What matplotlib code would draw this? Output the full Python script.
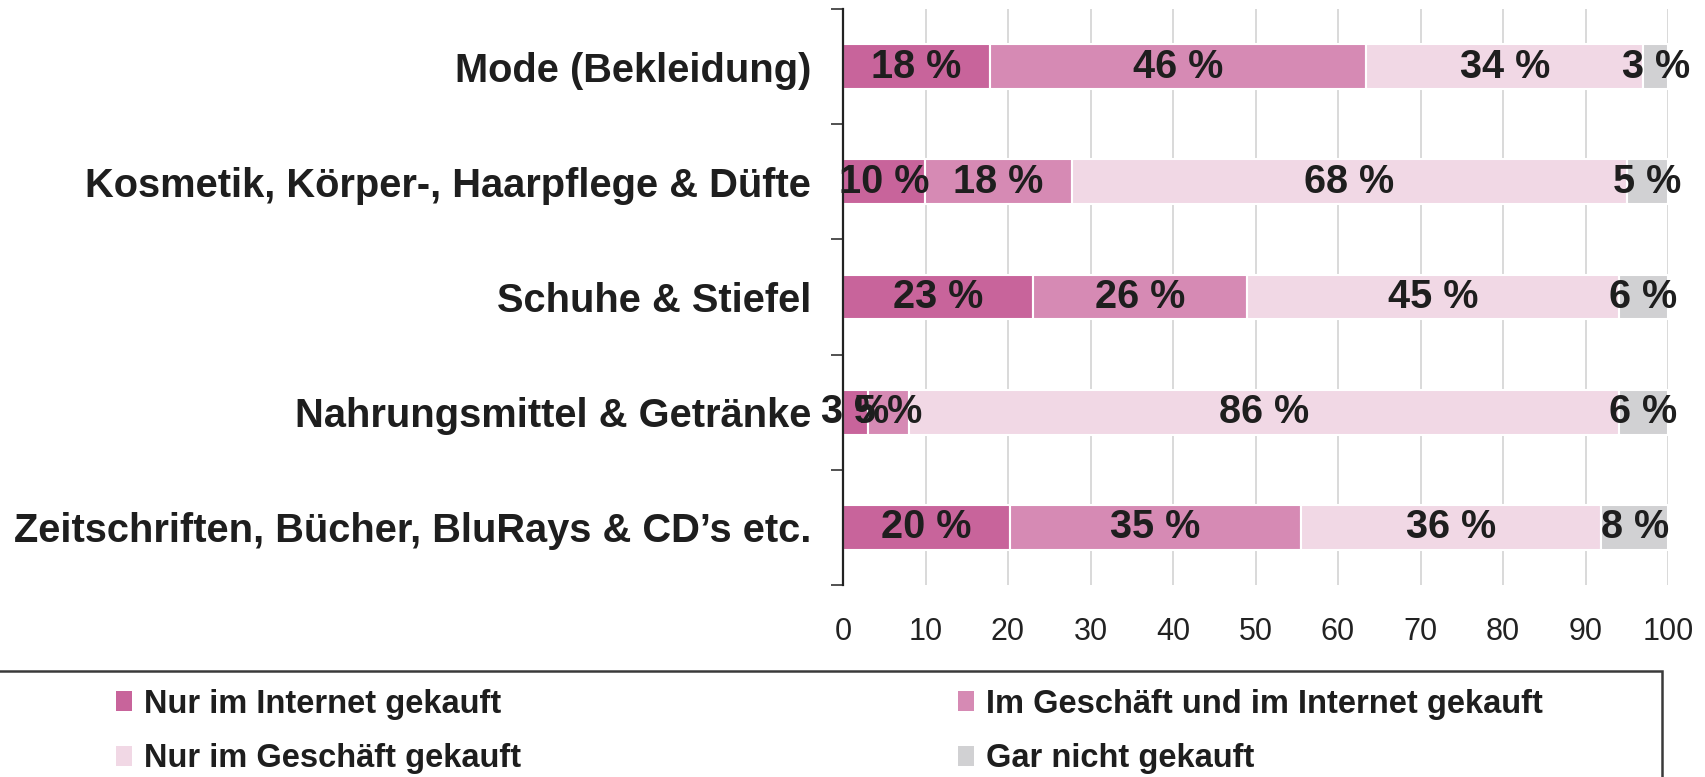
import numpy as np
import matplotlib
matplotlib.use("Agg")
import matplotlib.pyplot as plt
import matplotlib.patches as mpatches
from matplotlib.ticker import FixedLocator

plt.rcParams['font.family'] = ['Liberation Sans', 'DejaVu Sans']

# categories top to bottom
categories = ["Mode (Bekleidung)",
              "Kosmetik, Körper-, Haarpflege & Düfte",
              "Schuhe & Stiefel",
              "Nahrungsmittel & Getränke",
              "Zeitschriften, Bücher, BluRays & CD’s etc."]

series_names = ["Nur im Internet gekauft",
                "Im Geschäft und im Internet gekauft",
                "Nur im Geschäft gekauft",
                "Gar nicht gekauft"]

nur_internet = [18, 10, 23, 3, 20]
geschaeft_und_internet = [46, 18, 26, 5, 35]
nur_geschaeft = [34, 68, 45, 86, 36]
gar_nicht = [3, 5, 6, 6, 8]

colors = ["#c8649b", "#d68ab4", "#f1d8e5", "#d1d1d3"]
x_ticks = [0, 10, 20, 30, 40, 50, 60, 70, 80, 90, 100]

W, H = 1705, 777
fig = plt.figure(figsize=(W / 100, H / 100), dpi=100)
ax = fig.add_axes([843 / W, 1 - 585 / H, (1668 - 843) / W, (585 - 9) / H])

data = np.array([nur_internet, geschaeft_und_internet, nur_geschaeft, gar_nicht], dtype=float)
# 100% stacked: each row normalised to its total
shares = data / data.sum(axis=0) * 100
y = np.arange(len(categories))
left = np.zeros(len(categories))
for i, name in enumerate(series_names):
    ax.barh(y, shares[i], left=left, height=0.39, color=colors[i],
            edgecolor="white", linewidth=1.5, label=name, zorder=3)
    for j in range(len(categories)):
        ax.text(left[j] + shares[i][j] / 2, y[j], f"{int(data[i][j])} %",
                ha="center", va="center", fontsize=28.5, fontweight="bold",
                color="#1e1e1e", zorder=4)
    left += shares[i]

ax.set_xlim(0, 100)
ax.set_ylim(len(categories) - 0.5, -0.5)
ax.set_xticks(x_ticks)
ax.set_xticklabels([str(t) for t in x_ticks], fontsize=22, color="#222222")
ax.tick_params(axis="x", length=0, pad=23)
ax.set_yticks(y)
ax.set_yticklabels(categories, fontsize=28.7, fontweight="bold", color="#1e1e1e")
ax.tick_params(axis="y", which="major", length=0, pad=23)
ax.yaxis.set_minor_locator(FixedLocator(np.arange(-0.5, len(categories), 1.0)))
ax.tick_params(axis="y", which="minor", length=8.5, width=1.2, color="#333333")

ax.grid(axis="x", color="#d9d9d9", linewidth=1.4, zorder=0)
for s in ["top", "right", "bottom"]:
    ax.spines[s].set_visible(False)
ax.spines["left"].set_color("#222222")
ax.spines["left"].set_linewidth(1.6)
ax.spines["left"].set_zorder(5)

# legend frame running off the left and bottom edges
frame = mpatches.Rectangle((-0.01, -0.1), 1662 / W + 0.01, 0.1 + (1 - 671 / H),
                           transform=fig.transFigure, fill=False,
                           edgecolor="#3a3a3a", linewidth=1.8, clip_on=False)
fig.add_artist(frame)

# row-wise order: legend fills column by column
order = [0, 2, 1, 3]
handles = [mpatches.Patch(facecolor=colors[k], edgecolor="none") for k in order]
fig.legend(handles, [series_names[k] for k in order], loc="upper left",
           bbox_to_anchor=(93 / W, 1 - 666 / H), ncol=2, frameon=False,
           prop={"size": 23.5, "weight": "bold"}, handlelength=0.5,
           handleheight=0.55, handletextpad=0.35, columnspacing=13.4,
           labelspacing=0.72, borderpad=0.2)
for t in fig.legends[0].get_texts():
    t.set_color("#1e1e1e")

fig.savefig("out.png", dpi=100)
